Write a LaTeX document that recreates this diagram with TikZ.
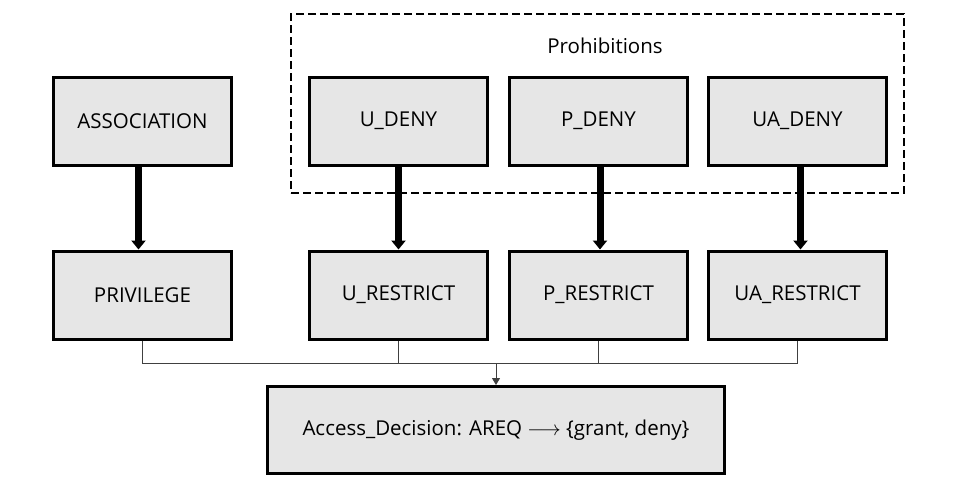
\documentclass[tikz,border=0pt]{standalone}
\usepackage{fontspec}
\setmainfont{Open Sans}
\usetikzlibrary{arrows.meta}
\begin{document}
\begin{tikzpicture}[x=1pt,y=-1pt,
  box/.style={draw=black,line width=3pt,fill=boxgray,minimum width=178pt,minimum height=88pt,inner sep=0pt,font=\fontsize{20.5}{24}\selectfont},
  bigarrow/.style={line width=7pt,-{Triangle[width=14pt,length=9pt]}},
  thin/.style={line width=1pt,draw=black!75}
]
\definecolor{boxgray}{RGB}{230,230,230}
\useasboundingbox (0,0) rectangle (960,499);
\fill[white] (0,0) rectangle (960,499);
% dashed group
\node[draw=black,line width=2pt,dash pattern=on 8pt off 4pt,minimum width=613pt,minimum height=179pt,inner sep=0pt] (grp) at (597.5,103.5) {};
\node[font=\fontsize{20.5}{24}\selectfont] (lbl) at (605,46) {Prohibitions};
% row 1
\node[box] (assoc) at (142.5,121) {ASSOCIATION};
\node[box] (udeny) at (398.5,121) {U\_DENY};
\node[box] (pdeny) at (598.5,121) {P\_DENY};
\node[box] (uadeny) at (797.5,121) {UA\_DENY};
% row 2
\node[box] (priv) at (142.5,295) {PRIVILEGE};
\node[box] (urest) at (398.5,295) {U\_RESTRICT};
\node[box] (prest) at (598.5,295) {P\_RESTRICT};
\node[box] (uarest) at (797.5,295) {UA\_RESTRICT};
% decision
\node[box,minimum width=457pt,minimum height=87pt] (acc) at (496,430) {Access\_Decision: AREQ $\longrightarrow$ \{grant, deny\}};
% thick arrows
\draw[bigarrow] ([xshift=-4pt]assoc.south) -- ([xshift=-4pt]priv.north);
\draw[bigarrow] (udeny.south) -- (urest.north);
\draw[bigarrow] ([xshift=1.5pt]pdeny.south) -- ([xshift=1.5pt]prest.north);
\draw[bigarrow] ([xshift=3pt]uadeny.south) -- ([xshift=3pt]uarest.north);
% thin connectors
\coordinate (j) at (496,363);
\draw[thin] (priv.south) |- (j);
\draw[thin] (uarest.south) |- (j);
\draw[thin] (urest.south) -- (urest.south |- j);
\draw[thin] (prest.south) -- (prest.south |- j);
\draw[thin,-{Triangle[width=8pt,length=7pt]}] (j) -- (acc.north);
\end{tikzpicture}
\end{document}
